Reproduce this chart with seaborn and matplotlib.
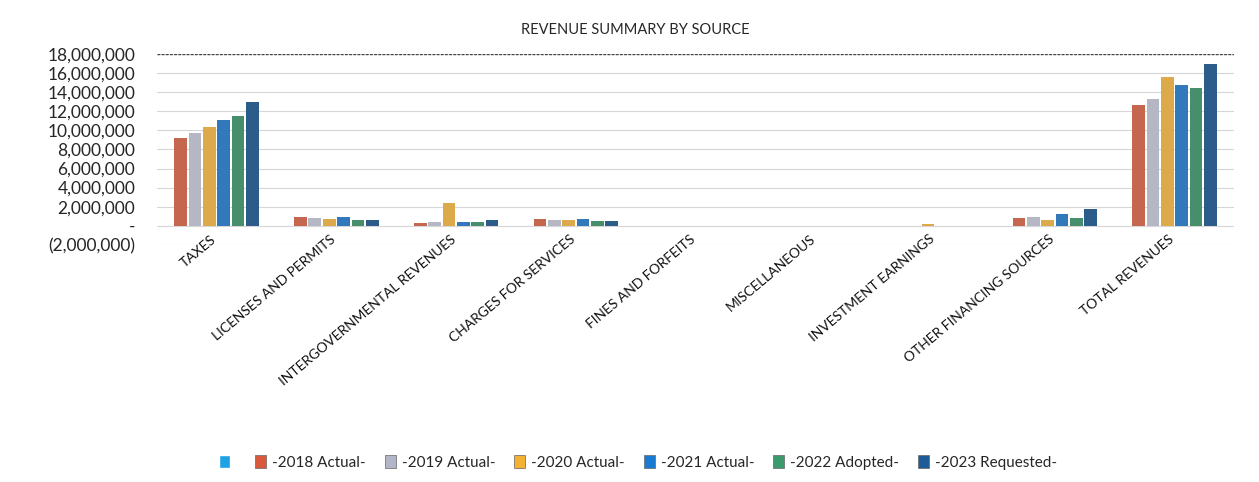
import numpy as np
import pandas as pd
import matplotlib
matplotlib.use("Agg")
import matplotlib.pyplot as plt
import matplotlib.transforms as mtransforms
from matplotlib.patches import Patch
from matplotlib.ticker import FuncFormatter
import seaborn as sns

# Data (dollars)
categories = ["TAXES", "LICENSES AND PERMITS", "INTERGOVERNMENTAL REVENUES",
              "CHARGES FOR SERVICES", "FINES AND FORFEITS", "MISCELLANEOUS",
              "INVESTMENT EARNINGS", "OTHER FINANCING SOURCES", "TOTAL REVENUES"]
series = ["-2018 Actual-", "-2019 Actual-", "-2020 Actual-",
          "-2021 Actual-", "-2022 Adopted-", "-2023 Requested-"]

actual_2018 = [9200000, 900000, 250000, 700000, 0, 0, 0, 800000, 12700000]
actual_2019 = [9750000, 800000, 350000, 600000, 0, 0, 0, 900000, 13300000]
actual_2020 = [10400000, 750000, 2400000, 600000, 0, 0, 150000, 600000, 15600000]
actual_2021 = [11050000, 900000, 400000, 700000, 0, 0, 0, 1200000, 14750000]
adopted_2022 = [11500000, 600000, 350000, 500000, 0, 0, 0, 850000, 14450000]
requested_2023 = [12950000, 650000, 600000, 550000, 0, 0, 0, 1800000, 17000000]

colors = ["#D95A3B", "#B3B5C8", "#F5B133", "#1A7AD2", "#3A9A6C", "#1D5C98"]
empty_color = "#1FA2E2"

values = [actual_2018, actual_2019, actual_2020, actual_2021, adopted_2022, requested_2023]
rows = []
for name, vals in zip(series, values):
    for cat, v in zip(categories, vals):
        rows.append({"Source": cat, "Year": name, "Amount": v})
df = pd.DataFrame(rows)

sns.set_style("white")
plt.rcParams["font.family"] = ["Lato", "DejaVu Sans"]

fig = plt.figure(figsize=(12.59, 4.82), dpi=100)
ax = fig.add_axes([0.1245, 0.492, 0.856, 0.396])

sns.barplot(data=df, x="Source", y="Amount", hue="Year", order=categories,
            hue_order=series, palette=colors, width=0.72, gap=0.12,
            linewidth=0, legend=False, ax=ax)

ax.set_ylim(-2000000, 18000000)
ax.set_yticks(np.arange(-2000000, 18000001, 2000000))

def money(v, pos):
    if abs(v) < 1:
        return "-"
    if v < 0:
        return "({:,.0f})".format(-v)
    return "{:,.0f}".format(v)

ax.yaxis.set_major_formatter(FuncFormatter(money))
ax.grid(axis="y", color="#D6D6D6", linewidth=0.8)
ax.set_axisbelow(True)
ax.axhline(18000000, color="#444444", linewidth=1.0, linestyle=(0, (2, 1)))
for s in ax.spines.values():
    s.set_visible(False)
ax.tick_params(axis="y", length=0, labelsize=12.5, pad=15.5)
ax.tick_params(axis="x", length=0, labelsize=10, pad=0, labelcolor="#111111")
ax.set_xlim(-0.5, len(categories) - 0.5)

# labels sit a bit up and left of the category centre, like the original
shift = mtransforms.ScaledTranslation(-0.06, 0.12, fig.dpi_scale_trans)
for lbl in ax.get_xticklabels():
    lbl.set_rotation(40)
    lbl.set_ha("right")
    lbl.set_rotation_mode("anchor")
    lbl.set_transform(lbl.get_transform() + shift)
ax.set_xlabel("")
ax.set_ylabel("")

fig.text(0.505, 0.937, "REVENUE SUMMARY BY SOURCE", ha="center", va="center",
         fontsize=10.5)

handles = [Patch(facecolor=empty_color, label="")]
handles += [Patch(facecolor=c, edgecolor="#666666", linewidth=0.5, label=s)
            for c, s in zip(colors, series)]
fig.legend(handles=handles, loc="center", bbox_to_anchor=(0.507, 0.04), ncol=7,
           frameon=False, fontsize=11, handlelength=0.7, handleheight=0.9,
           handletextpad=0.4, columnspacing=1.25)

fig.savefig("out.png", dpi=100)
